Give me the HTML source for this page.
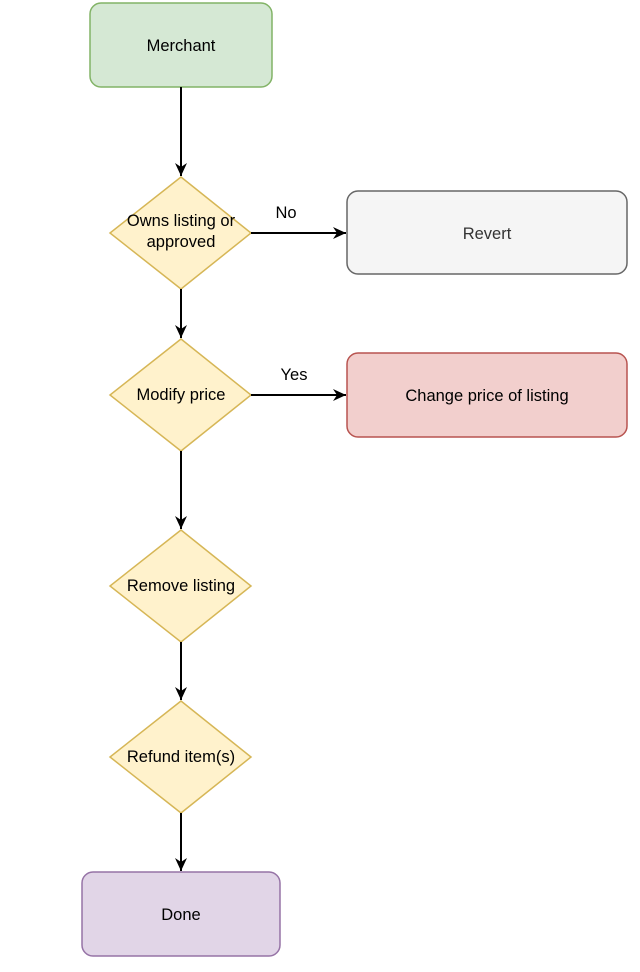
<!DOCTYPE html>
<html><head><meta charset="utf-8"><style>
html,body{margin:0;padding:0;background:#fff;}
svg{display:block;}
text{font-family:"Liberation Sans",Arial,sans-serif;font-size:16.5px;fill:#000;}
</style></head><body>
<svg width="640" height="972" viewBox="0 0 640 972" xmlns="http://www.w3.org/2000/svg">
<defs>
<marker id="a" markerWidth="14" markerHeight="14" refX="13" refY="6" orient="auto" markerUnits="userSpaceOnUse">
<path d="M0,0 L13,6 L0,12 L4,6 Z" fill="#000"/>
</marker>
</defs>
<rect x="90" y="3" width="182" height="84" rx="11" fill="#d5e8d4" stroke="#82b366" stroke-width="1.5"/>
<text x="181" y="51" text-anchor="middle">Merchant</text>
<line x1="181" y1="87" x2="181" y2="176" stroke="#000" stroke-width="2" marker-end="url(#a)"/>
<polygon points="181,177 251,233 181,289 110,233" fill="#fff2cc" stroke="#d6b656" stroke-width="1.5"/>
<text x="181" y="226" text-anchor="middle">Owns listing or</text>
<text x="181" y="247" text-anchor="middle">approved</text>
<line x1="251" y1="233" x2="346" y2="233" stroke="#000" stroke-width="2" marker-end="url(#a)"/>
<text x="286" y="218" text-anchor="middle">No</text>
<rect x="347" y="191" width="280" height="83" rx="11" fill="#f5f5f5" stroke="#666666" stroke-width="1.5"/>
<text x="487" y="239" text-anchor="middle" style="fill:#333">Revert</text>
<line x1="181" y1="289" x2="181" y2="338" stroke="#000" stroke-width="2" marker-end="url(#a)"/>
<polygon points="181,339 251,395 181,451 110,395" fill="#fff2cc" stroke="#d6b656" stroke-width="1.5"/>
<text x="181" y="400" text-anchor="middle">Modify price</text>
<line x1="251" y1="395" x2="346" y2="395" stroke="#000" stroke-width="2" marker-end="url(#a)"/>
<text x="294" y="380" text-anchor="middle">Yes</text>
<rect x="347" y="353" width="280" height="84" rx="11" fill="#f2cfcd" stroke="#b85450" stroke-width="1.5"/>
<text x="487" y="401" text-anchor="middle">Change price of listing</text>
<line x1="181" y1="451" x2="181" y2="529" stroke="#000" stroke-width="2" marker-end="url(#a)"/>
<polygon points="181,530 251,586 181,642 110,586" fill="#fff2cc" stroke="#d6b656" stroke-width="1.5"/>
<text x="181" y="591" text-anchor="middle">Remove listing</text>
<line x1="181" y1="642" x2="181" y2="700" stroke="#000" stroke-width="2" marker-end="url(#a)"/>
<polygon points="181,701 251,757 181,813 110,757" fill="#fff2cc" stroke="#d6b656" stroke-width="1.5"/>
<text x="181" y="762" text-anchor="middle">Refund item(s)</text>
<line x1="181" y1="813" x2="181" y2="871" stroke="#000" stroke-width="2" marker-end="url(#a)"/>
<rect x="82" y="872" width="198" height="84" rx="11" fill="#e1d5e7" stroke="#9673a6" stroke-width="1.5"/>
<text x="181" y="920" text-anchor="middle">Done</text>
</svg>
</body></html>
